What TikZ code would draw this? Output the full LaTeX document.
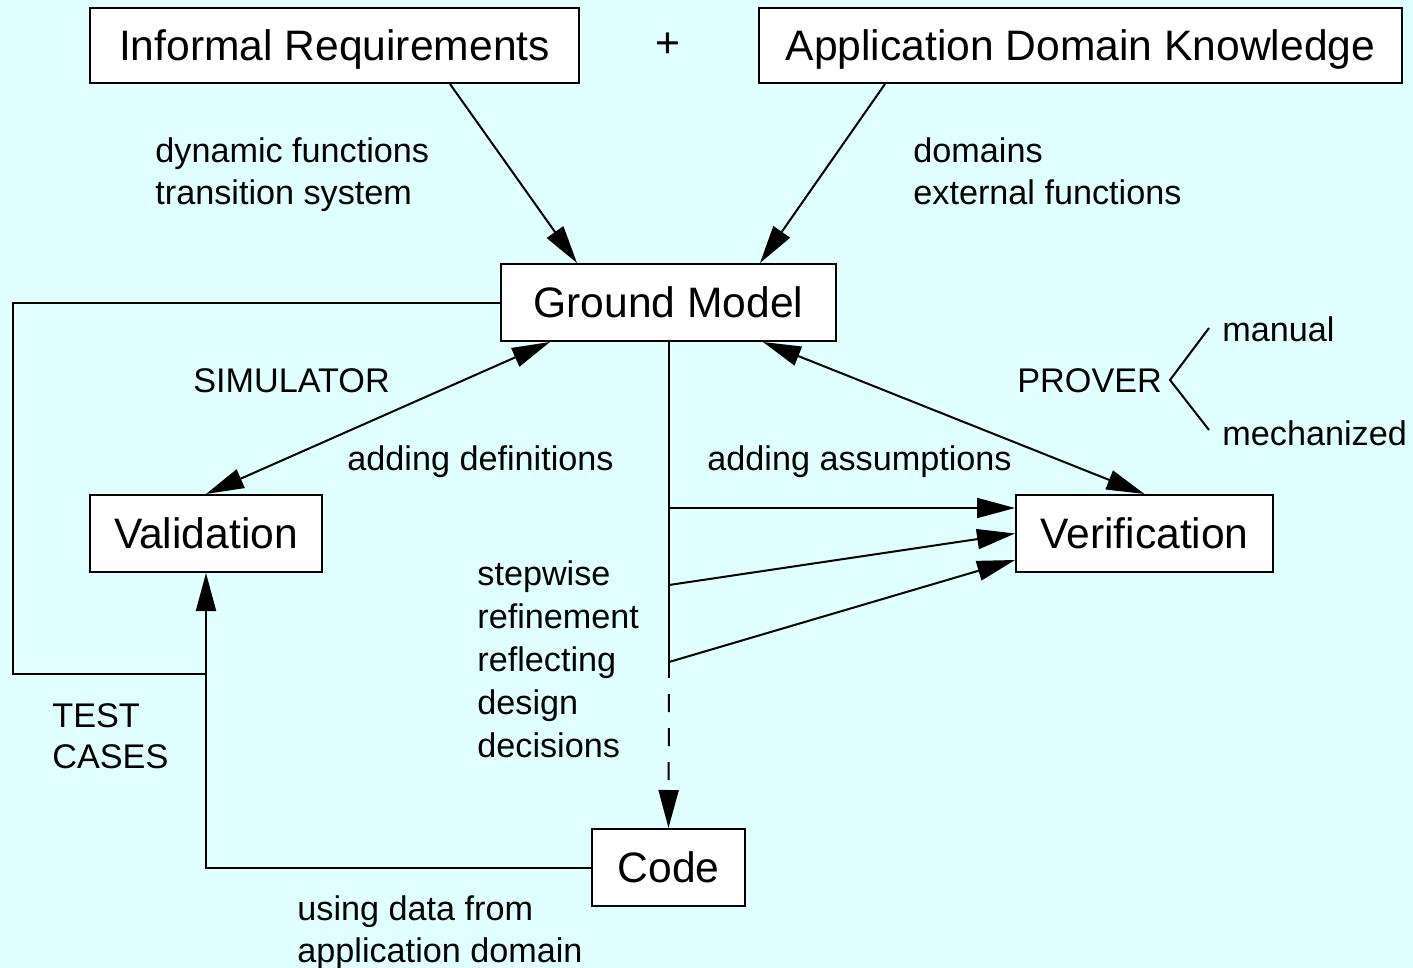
\documentclass[tikz,border=0pt]{standalone}
\usepackage{fontspec}
\setmainfont{Liberation Sans}
\usetikzlibrary{arrows.meta,calc}
\definecolor{bgcyan}{RGB}{224,255,255}
\begin{document}
\begin{tikzpicture}[x=0.5pt,y=-0.5pt,
  box/.style={draw,fill=white,line width=1pt,inner sep=0pt,text depth=0pt,font=\fontsize{21.3}{25}\selectfont},
  lbl/.style={anchor=base west,inner sep=0pt,font=\fontsize{17.1}{21}\selectfont},
  conn/.style={line width=1pt},
  arr/.style={conn,-{Triangle[length=19pt,width=10pt]}},
  darr/.style={conn,{Triangle[length=19pt,width=10pt]}-{Triangle[length=19pt,width=10pt]}},
]
\fill[bgcyan] (0,0) rectangle (1413,968);
\useasboundingbox (0,0) rectangle (1413,968);

% boxes
\node[box,minimum width=244.5pt,minimum height=37.5pt] (ir) at (334.5,45.5) {Informal Requirements};
\node[box,minimum width=321.5pt,minimum height=37.5pt] (adk) at (1080.5,45.5) {Application Domain Knowledge};
\node[inner sep=0pt,font=\fontsize{21.3}{25}\selectfont] (plus) at (668,45) {+};
\node[box,minimum width=167.5pt,minimum height=38.5pt] (gm) at (668.5,302.5) {Ground Model};
\node[box,minimum width=116pt,minimum height=38.5pt] (val) at (206,533.5) {Validation};
\node[box,minimum width=128.5pt,minimum height=38.5pt] (ver) at (1144.5,533.5) {Verification};
\node[box,minimum width=76.5pt,minimum height=38.5pt] (code) at (668.5,867.5) {Code};

% labels
\node[lbl] (l1) at (155,163) {dynamic functions};
\node[lbl] (l2) at (155,205) {transition system};
\node[lbl] (l3) at (913,163) {domains};
\node[lbl] (l4) at (913,205) {external functions};
\node[lbl] (sim) at (193,392) {SIMULATOR};
\node[lbl] (prover) at (1017,392) {PROVER};
\node[lbl] (man) at (1222,342) {manual};
\node[lbl] (mech) at (1222,445) {mechanized};
\node[lbl] (adef) at (347,470) {adding definitions};
\node[lbl] (aass) at (707,470) {adding assumptions};
\node[lbl] (s1) at (477,585) {stepwise};
\node[lbl] (s2) at (477,628) {refinement};
\node[lbl] (s3) at (477,671) {reflecting};
\node[lbl] (s4) at (477,714) {design};
\node[lbl] (s5) at (477,757) {decisions};
\node[lbl] (t1) at (52,727) {TEST};
\node[lbl] (t2) at (52,768) {CASES};
\node[lbl] (u1) at (297,920) {using data from};
\node[lbl] (u2) at (297,962) {application domain};

% coordinates
\coordinate (b1) at (669,508);
\coordinate (b2) at (669,585);
\coordinate (b3) at (669,662);
\coordinate (b4) at (669,678);
\coordinate (lc) at (13,674);
\coordinate (vj) at (206,674);
\coordinate (pa) at (1209,328);
\coordinate (pb) at (1170,380);
\coordinate (pc) at (1209,430);

% connectors
\draw[arr] ($(ir.south west)+(361,0)$) -- ($(gm.north west)+(77,0)$);
\draw[arr] ($(adk.south west)+(127,0)$) -- ($(gm.north east)+(-77,0)$);
\draw[darr] ($(gm.south west)+(50,0)$) -- (val.north);
\draw[darr] ($(gm.south east)+(-74,0)$) -- (ver.north);
\draw[conn] (gm.south -| b1) -- (b4);
\draw[arr,dash pattern=on 9pt off 8pt,dash phase=9pt] (b4) -- (code.north);
\draw[arr] (b1) -- ([yshift=12.75pt]ver.west);
\draw[arr] (b2) -- (ver.west);
\draw[arr] (b3) -- ([yshift=-13.25pt]ver.west);
\draw[conn] (gm.west) -| (lc) -- (vj);
\draw[arr] (code.west) -| (val.south);
\draw[conn] (pa) -- (pb) -- (pc);
\end{tikzpicture}
\end{document}
